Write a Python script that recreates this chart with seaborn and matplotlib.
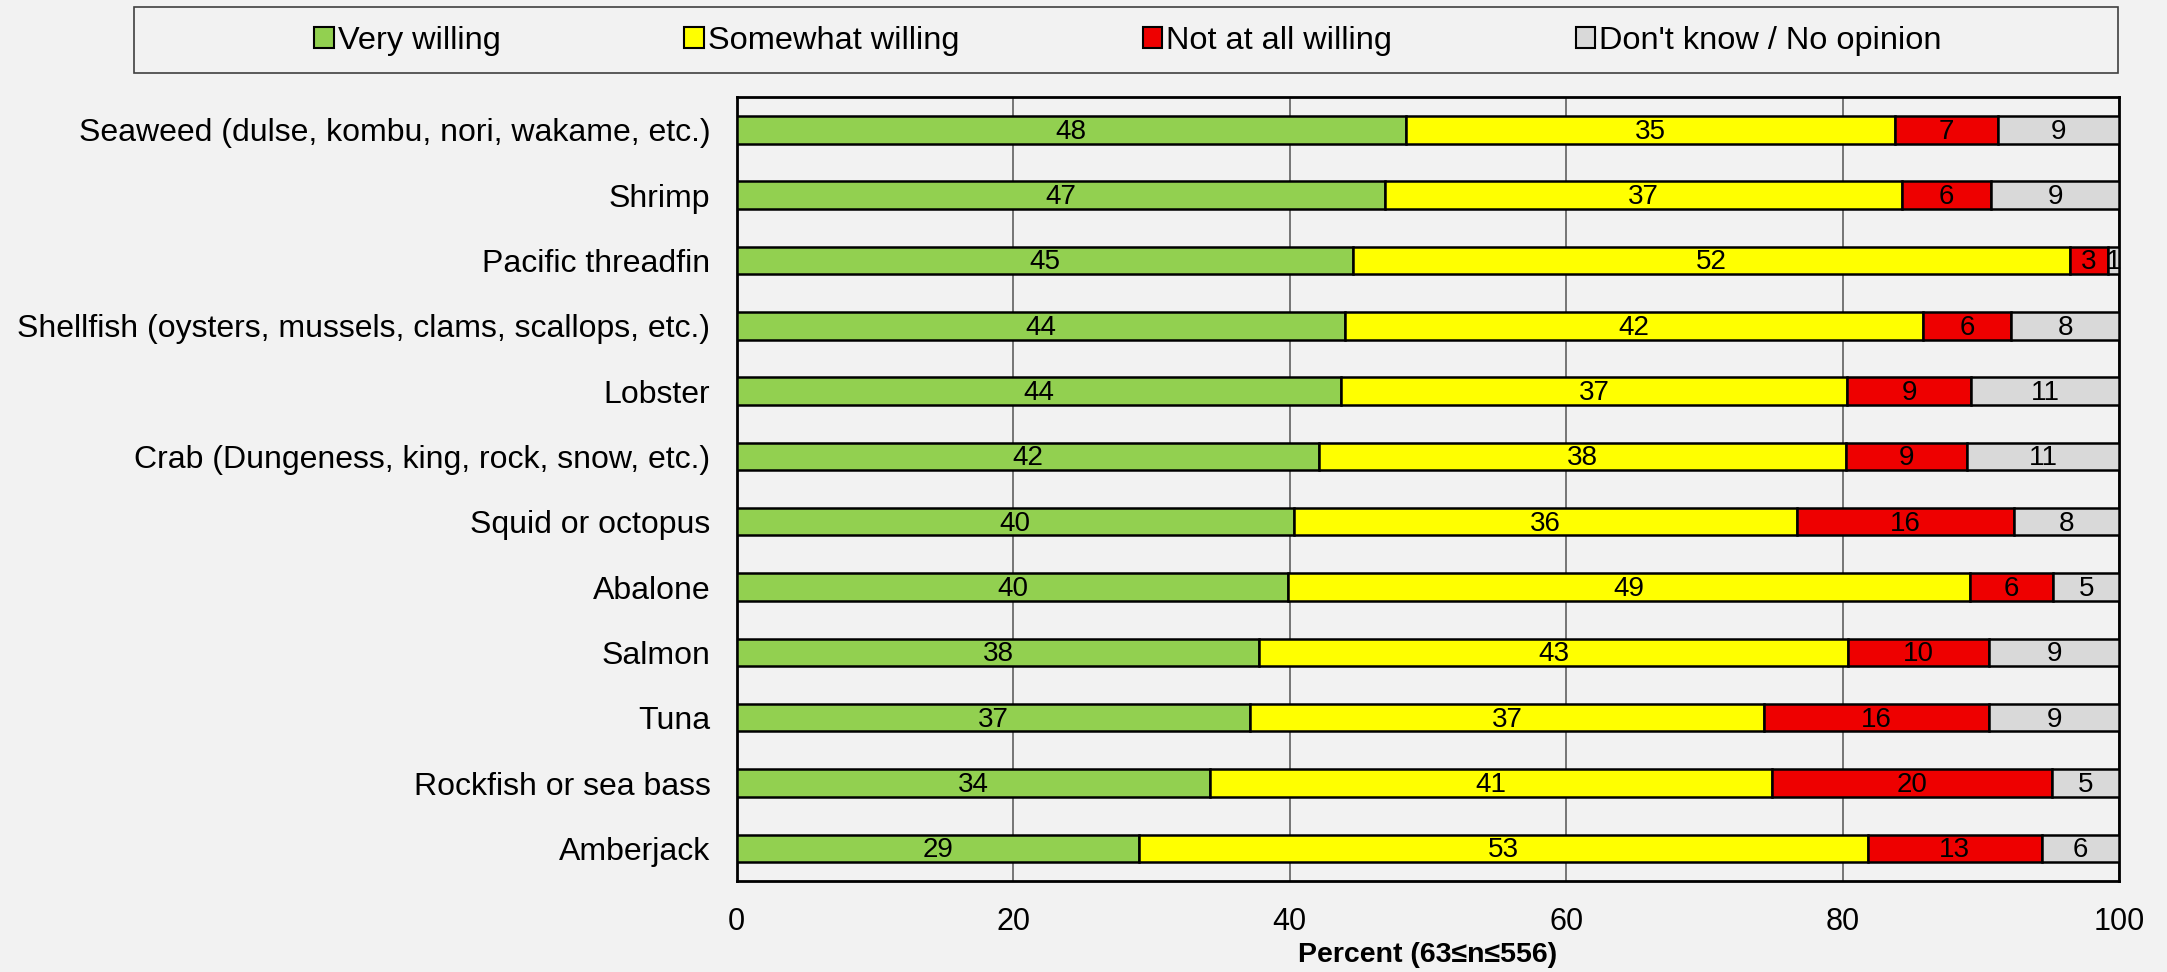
import numpy as np
import seaborn as sns
import matplotlib.pyplot as plt
from matplotlib.patches import Patch, Rectangle
from matplotlib.ticker import FixedLocator

# data
categories = ["Seaweed (dulse, kombu, nori, wakame, etc.)", "Shrimp", "Pacific threadfin",
              "Shellfish (oysters, mussels, clams, scallops, etc.)", "Lobster",
              "Crab (Dungeness, king, rock, snow, etc.)", "Squid or octopus", "Abalone",
              "Salmon", "Tuna", "Rockfish or sea bass", "Amberjack"]
very_willing = [48.4, 46.9, 44.6, 44.0, 43.7, 42.1, 40.3, 39.9, 37.8, 37.1, 34.2, 29.1]
somewhat_willing = [35.4, 37.4, 51.8, 41.8, 36.6, 38.1, 36.4, 49.3, 42.6, 37.2, 40.7, 52.7]
not_willing = [7.4, 6.4, 2.8, 6.4, 9.0, 8.8, 15.7, 6.0, 10.2, 16.3, 20.2, 12.6]
dont_know = [8.8, 9.3, 0.8, 7.8, 10.7, 11.0, 7.6, 4.8, 9.4, 9.4, 4.9, 5.6]

series_names = ["Very willing", "Somewhat willing", "Not at all willing", "Don't know / No opinion"]
series_colors = ["#92D050", "#FFFF00", "#EE0000", "#D9D9D9"]
x_ticks = [0, 20, 40, 60, 80, 100]

sns.set_style("white")
plt.rcParams['font.family'] = ['Liberation Sans', 'DejaVu Sans']
plt.rcParams['text.color'] = 'black'
plt.rcParams['axes.labelcolor'] = 'black'
plt.rcParams['xtick.color'] = 'black'
plt.rcParams['ytick.color'] = 'black'
bg = "#F2F2F2"

fig = plt.figure(figsize=(21.67, 9.72), dpi=100, facecolor=bg)
ax = fig.add_axes([0.340, 0.0936, 0.978 - 0.340, 0.900 - 0.0936])
ax.set_facecolor(bg)

# stacked bars
left = np.zeros(len(categories))
for name, vals, col in zip(series_names, [very_willing, somewhat_willing, not_willing, dont_know], series_colors):
    vals = np.array(vals)
    sns.barplot(x=vals, y=categories, left=left, color=col, edgecolor="black",
                linewidth=1.8, width=0.42, ax=ax, saturation=1, zorder=3)
    for i, (l, v) in enumerate(zip(left, vals)):
        ax.text(l + v / 2, i + 0.03, "%.0f" % v, ha="center", va="center",
                fontsize=20, color="black", zorder=4)
    left = left + vals

ax.set_xlim(0, 100)
ax.set_ylim(len(categories) - 0.5, -0.5)
ax.xaxis.set_major_locator(FixedLocator(x_ticks))
ax.set_xticklabels([str(t) for t in x_ticks])
ax.grid(axis="x", color="#606060", linewidth=1.2, zorder=0)
ax.set_axisbelow(True)

# y ticks: labels at centers, tick marks at boundaries
ax.yaxis.set_minor_locator(FixedLocator(np.arange(-0.5, len(categories), 1.0)))
ax.tick_params(axis="y", which="major", length=0, labelsize=23, pad=19)
ax.tick_params(axis="y", which="minor", length=7, width=1.2, color="black", direction="out")
ax.tick_params(axis="x", which="major", length=7, width=1.2, color="black",
               direction="out", labelsize=22, pad=12)
ax.set_ylabel("")
ax.set_xlabel("Percent (63≤n≤556)", fontsize=20.5, fontweight="bold", labelpad=3)
for s in ax.spines.values():
    s.set_visible(True)
    s.set_color("black")
    s.set_linewidth(2)

# legend box
fig.patches.append(Rectangle((134 / 2167, 1 - 73 / 972), (2118 - 134) / 2167, 66 / 972,
                             transform=fig.transFigure, facecolor=bg, edgecolor="#404040",
                             linewidth=1.2))
handles = [Patch(facecolor=c, edgecolor="black", linewidth=1.5) for c in series_colors]
fig.legend(handles, series_names, loc="center", bbox_to_anchor=(1128 / 2167, 1 - 41 / 972),
           ncol=4, frameon=False, fontsize=23.4, handlelength=0.6, handleheight=0.6,
           handletextpad=0.12, columnspacing=5.65)

fig.savefig("out.png", dpi=100, facecolor=bg)
